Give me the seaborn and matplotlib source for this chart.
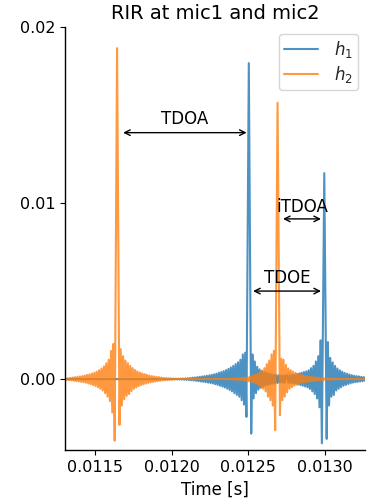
import numpy as np
import matplotlib
matplotlib.use("Agg")
import matplotlib.pyplot as plt
import seaborn as sns
from matplotlib.ticker import FormatStrFormatter

# sampled room impulse responses, values in units of 1e-3
fs = 128000
t_start = 0.0113

h1_vals = [
    0.0, 0.0, 0.0, 0.0, 0.0, 0.0, 0.0, 0.0, 0.0, 0.0,
    0.0, 0.0, 0.0, 0.0, 0.0, 0.0, 0.0, 0.0, 0.0, 0.0,
    0.0, 0.0, 0.0, 0.0, 0.0, 0.0, 0.0, 0.0, 0.0, 0.0,
    0.0, 0.0, 0.0, 0.0, 0.0, 0.0, 0.0, 0.0, 0.0, 0.0,
    0.0, 0.0, 0.0, 0.0, 0.0, 0.0, 0.0, 0.0, 0.0, 0.0,
    0.0, 0.0, 0.0, 0.0, 0.0, 0.0, 0.0, 0.0, 0.0, 0.0,
    0.0, 0.0, 0.0, 0.0, 0.0, 0.0, 0.0, 0.0, 0.0, 0.0,
    0.0, 0.0, 0.0, 0.0, 0.0, 0.0, 0.0, 0.0, 0.0, 0.0,
    0.0, 0.0, 0.0, 0.0, 0.0, 0.0, 0.0, 0.0, 0.0, 0.0,
    -0.005, 0.007, -0.009, 0.011, -0.013, 0.016, -0.019, 0.022, -0.025, 0.03,
    -0.035, 0.04, -0.045, 0.05, -0.055, 0.06, -0.07, 0.08, -0.085, 0.09,
    -0.1, 0.11, -0.12, 0.13, -0.14, 0.15, -0.16, 0.17, -0.18, 0.19,
    -0.2, 0.21, -0.23, 0.24, -0.25, 0.27, -0.29, 0.31, -0.33, 0.36,
    -0.38, 0.4, -0.43, 0.45, -0.48, 0.51, -0.55, 0.58, -0.62, 0.66,
    -0.7, 0.75, -0.8, 0.85, -0.9, 0.95, -1.0, 1.1, -1.2, 1.4,
    -1.45, 1.5, -2.15, 7.9, 17.95, 7.4, -3.1, 1.4, -1.1, 1.0,
    -0.8, 0.7, -0.6, 0.55, -0.5, 0.46, -0.43, 0.4, -0.37, 0.35,
    -0.33, 0.31, -0.29, 0.27, -0.26, 0.25, -0.24, 0.23, -0.22, 0.21,
    -0.2, 0.2, -0.2, 0.2, -0.21, 0.2, 0.21, -0.21, 0.22, -0.22,
    0.23, -0.24, 0.25, -0.26, 0.28, -0.3, 0.32, -0.34, 0.36, -0.38,
    0.4, -0.42, 0.44, -0.47, 0.5, -0.56, 0.62, -0.7, 0.75, -0.85,
    1.0, -1.1, 1.3, -1.6, 2.2, -3.65, 4.0, 11.7, 4.2, -3.4,
    2.1, -1.5, 1.2, -1.0, 0.95, -0.9, 0.75, -0.65, 0.6, -0.55,
    0.5, -0.46, 0.42, -0.38, 0.35, -0.33, 0.3, -0.28, 0.26, -0.24,
    0.22, -0.2, 0.19, -0.18, 0.17, -0.16, 0.15, -0.14, 0.13, -0.12,
    0.11, -0.1, 0.09,
]

h2_vals = [
    -0.035, 0.04, -0.045, 0.05, -0.06, 0.07, -0.08, 0.09, -0.1, 0.11,
    -0.12, 0.13, -0.14, 0.15, -0.16, 0.17, -0.18, 0.2, -0.21, 0.23,
    -0.25, 0.27, -0.29, 0.31, -0.34, 0.36, -0.39, 0.42, -0.46, 0.5,
    -0.55, 0.6, -0.65, 0.72, -0.8, 0.9, -1.0, 1.1, -1.25, 1.6,
    -1.9, 2.0, -3.5, 7.6, 18.8, 8.1, -2.6, 1.7, -1.5, 1.3,
    -1.15, 1.05, -0.95, 0.9, -0.85, 0.75, -0.68, 0.62, -0.56, 0.51,
    -0.47, 0.43, -0.4, 0.37, -0.34, 0.32, -0.3, 0.28, -0.26, 0.24,
    -0.22, 0.2, -0.19, 0.17, -0.16, 0.15, -0.14, 0.13, -0.12, 0.11,
    -0.1, 0.09, -0.08, 0.07, -0.065, 0.06, -0.055, 0.05, -0.045, 0.04,
    -0.035, 0.03, -0.025, 0.02, -0.015, 0.012, -0.01, 0.008, -0.006, 0.005,
    -0.004, 0.003, 0.0, 0.0, 0.0, 0.0, 0.0, 0.0, 0.0, 0.0,
    0.0, 0.0, 0.0, 0.0, 0.0, 0.0, 0.0, 0.0, 0.0, 0.0,
    0.0, 0.0, 0.0, 0.0, 0.0, 0.0, 0.0, 0.0, -0.003, 0.004,
    -0.005, 0.006, -0.007, 0.008, -0.009, 0.011, -0.013, 0.015, -0.018, 0.021,
    -0.024, 0.027, -0.03, 0.035, -0.04, 0.045, -0.05, 0.055, -0.06, 0.07,
    -0.08, 0.09, -0.1, 0.11, -0.12, 0.14, -0.16, 0.18, -0.2, 0.23,
    -0.26, 0.29, -0.33, 0.37, -0.42, 0.48, -0.55, 0.62, -0.7, 0.85,
    -1.0, 1.05, -1.2, 1.4, -1.5, 1.6, -2.9, 6.4, 15.7, 6.8,
    -2.05, 1.15, -1.2, 1.1, -1.0, 0.8, -0.75, 0.6, -0.55, 0.5,
    -0.46, 0.42, -0.38, 0.35, -0.32, 0.29, -0.27, 0.25, -0.23, 0.21,
    -0.19, 0.17, -0.16, 0.15, -0.14, 0.13, -0.12, 0.11, -0.1, 0.09,
    -0.085, 0.08, -0.075, 0.07, -0.065, 0.06, -0.055, 0.05, -0.045, 0.04,
    -0.036, 0.032, -0.028, 0.025, -0.022, 0.019, -0.016, 0.014, -0.012, 0.01,
    -0.009, 0.008, -0.007, 0.006, -0.005, 0.004, -0.004, 0.003, -0.003, 0.002,
    -0.002, 0.002, -0.002, 0.001, -0.001, 0.001, -0.001, 0.0, 0.0, 0.0,
    0.0, 0.0, 0.0,
]

series_labels = [r"$h_1$", r"$h_2$"]

# (label, t_from, t_to, level) for the double arrows
arrows = [
    ("TDOA", 0.011683, 0.012489, 0.0140),
    ("iTDOA", 0.012726, 0.012974, 0.0091),
    ("TDOE", 0.012531, 0.012974, 0.0050),
]
arrow_text = [
    (0.012086, 0.01477),
    (0.01285, 0.00977),
    (0.012752, 0.00574),
]

x_ticks = [0.0115, 0.0120, 0.0125, 0.0130]
y_ticks = [0.00, 0.01, 0.02]


def main():
    sns.set_style("ticks")
    plt.rcParams["font.family"] = ["DejaVu Sans"]

    fig, ax = plt.subplots(figsize=(3.81, 5.01), dpi=100)
    fig.subplots_adjust(left=0.1706, right=0.958, bottom=0.1018, top=0.946)

    colors = ["#1f77b4", "#ff7f0e"]
    for vals, lab, col in zip([h1_vals, h2_vals], series_labels, colors):
        y = np.array(vals) * 1e-3
        t = t_start + np.arange(len(y)) / fs
        sns.lineplot(x=t, y=y, ax=ax, color=col, alpha=0.8, lw=1.5,
                     label=lab, estimator=None, sort=False)

    for (lab, x0, x1, y), (tx, ty) in zip(arrows, arrow_text):
        ax.annotate("", xy=(x1, y), xytext=(x0, y),
                    arrowprops=dict(arrowstyle="<->", color="black", lw=1,
                                    shrinkA=0, shrinkB=0))
        ax.text(tx, ty, lab, ha="center", va="center", fontsize=12, color="black")

    ax.set_xlim(0.011304, 0.013261)
    ax.set_ylim(-0.00403, 0.02)
    ax.set_xticks(x_ticks)
    ax.set_yticks(y_ticks)
    ax.xaxis.set_major_formatter(FormatStrFormatter("%.4f"))
    ax.yaxis.set_major_formatter(FormatStrFormatter("%.2f"))
    ax.tick_params(labelsize=11.5, colors="black")
    for s in ["left", "bottom"]:
        ax.spines[s].set_color("black")
        ax.spines[s].set_linewidth(1)

    ax.set_xlabel("Time [s]", fontsize=12, color="black")
    ax.set_ylabel("")
    ax.set_title("RIR at mic1 and mic2", fontsize=14, color="black")
    ax.legend(loc="upper right", fontsize=12, labelspacing=0.25,
              borderpad=0.3, borderaxespad=0.4, handletextpad=1.0)
    sns.despine(ax=ax)

    fig.savefig("out.png", dpi=100)


if __name__ == "__main__":
    main()
